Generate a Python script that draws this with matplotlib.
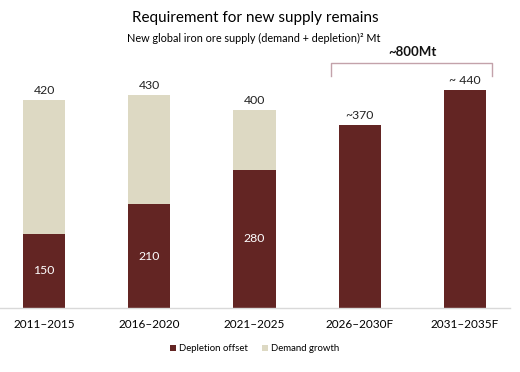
import matplotlib.pyplot as plt
import numpy as np

plt.rcParams['font.family'] = ['Lato', 'DejaVu Sans']

# data
periods = ['2011\u20132015', '2016\u20132020', '2021\u20132025', '2026\u20132030F', '2031\u20132035F']
depletion = [150, 210, 280, 370, 440]
demand = [270, 220, 120, 0, 0]
top_labels = ['420', '430', '400', '~370', '~ 440']
inner_labels = ['150', '210', '280', '', '']

dark = '#632523'
light = '#DDD9C3'

fig = plt.figure(figsize=(5.2, 3.72), dpi=100)
ax = fig.add_axes([0.0, 0.172, 0.981, 0.718])

x = np.arange(len(periods))
w = 0.4
ax.bar(x, depletion, w, color=dark, label='Depletion offset', zorder=2)
ax.bar(x, demand, w, bottom=depletion, color=light, label='Demand growth', zorder=2)

totals = np.array(depletion) + np.array(demand)
for i in range(len(x)):
    ax.text(x[i], totals[i] + 9, top_labels[i], ha='center', va='bottom',
            fontsize=8.8, color='#222222')
    if inner_labels[i]:
        ax.text(x[i], depletion[i] / 2, inner_labels[i], ha='center', va='center',
                fontsize=8.8, color='white')

# bracket over the forecast bars
bx0, bx1 = x[3] - 0.27, x[4] + 0.26
ax.plot([bx0, bx0, bx1, bx1], [470, 495, 495, 470], color='#C3A2AA', lw=1.0,
        clip_on=False, zorder=3)
ax.text((x[3] + x[4]) / 2, 505, '~800Mt', ha='center', va='bottom',
        fontsize=9.5, fontweight='bold', color='#111111')

ax.set_xlim(-0.42, 4.43)
ax.set_ylim(0, 540)
ax.set_xticks(x)
ax.set_xticklabels(periods, fontsize=8.5)
ax.tick_params(axis='x', length=0, pad=8)
ax.set_yticks([])
for s in ['top', 'right', 'left']:
    ax.spines[s].set_visible(False)
ax.spines['bottom'].set_color('#D9D9D9')
ax.spines['bottom'].set_linewidth(1)

fig.text(0.491, 0.952, 'Requirement for new supply remains', ha='center', va='center',
         fontsize=11)
fig.text(0.488, 0.897, 'New global iron ore supply (demand + depletion)\u00b2 Mt',
         ha='center', va='center', fontsize=7.8)

fig.legend(loc='center', bbox_to_anchor=(0.49, 0.062), ncol=2, frameon=False,
           fontsize=6.9, handlelength=0.6, handleheight=0.6, handletextpad=0.3,
           columnspacing=1.5)

fig.savefig('out.png', dpi=100)
